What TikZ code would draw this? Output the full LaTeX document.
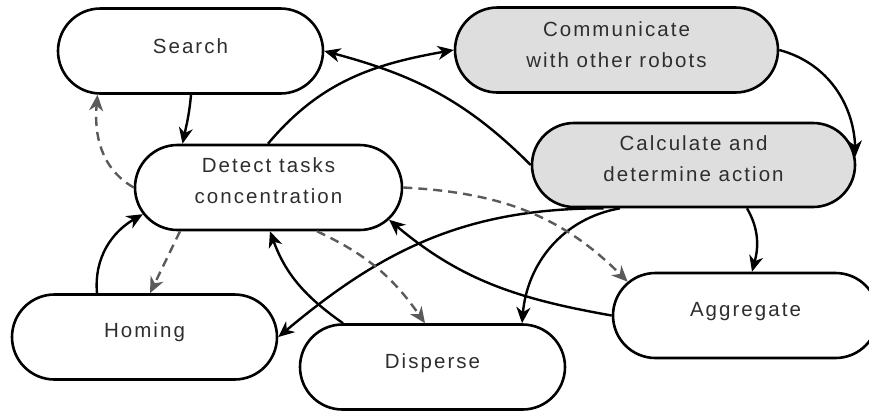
\documentclass[tikz,border=0pt]{standalone}
\usepackage{fontspec}
\setmainfont{Liberation Sans}[LetterSpace=10]
\usetikzlibrary{shapes.misc,arrows.meta}
\definecolor{boxgray}{HTML}{DEDEDE}
\definecolor{txtgray}{HTML}{2E2E2E}
\definecolor{dashgray}{HTML}{5A5A5A}
\begin{document}
\begin{tikzpicture}[x=1pt,y=1pt,
  state/.style={rounded rectangle, draw=black, line width=2.6pt, minimum height=85pt, inner sep=0pt},
  txt/.style={text=txtgray, font=\fontsize{20.5}{31}\selectfont, align=center, inner sep=0pt},
  conn/.style={line width=2.4pt, draw=black, -{Stealth[length=16pt,width=14pt,inset=5pt]}},
  dconn/.style={conn, draw=dashgray, dash pattern=on 9pt off 6pt}]
\useasboundingbox (0,0) rectangle (869,-410);
% boxes
\node[state, minimum width=265pt] (search) at (190.5,-51) {};
\node[state, fill=boxgray, minimum width=323pt] (comm) at (616.5,-50) {};
\node[state, fill=boxgray, minimum width=323pt, minimum height=84pt] (calc) at (693.5,-165) {};
\node[state, minimum width=267pt] (detect) at (268.5,-187.5) {};
\node[state, minimum width=265pt] (homing) at (144.5,-337) {};
\node[state, minimum width=265pt] (disperse) at (432.5,-367) {};
\node[state, minimum width=265pt] (aggr) at (745.5,-315.5) {};
% texts
\node[txt, anchor=base] (search-t) at (190.5,-53) {Search};
\node[txt] (comm-t) at (616.5,-44.4) {Communicate\\with other robots};
\node[txt] (calc-t) at (693.5,-159) {Calculate and\\determine action};
\node[txt] (detect-t) at (268.5,-181) {Detect tasks\\concentration};
\node[txt, anchor=base] (homing-t) at (144.5,-337) {Homing};
\node[txt, anchor=base] (disperse-t) at (432.5,-368) {Disperse};
\node[txt, anchor=base] (aggr-t) at (745.5,-316) {Aggregate};
% connectors
\draw[conn] ([xshift=0.5pt]search.south) to[out=-95,in=78] ([xshift=-86pt]detect.north);
\draw[dconn] (detect.west) to[out=150,in=-95] ([xshift=-93pt]search.south);
\draw[conn] ([xshift=-0.5pt]detect.north) to[out=50,in=190] (comm.west);
\draw[conn] (calc.west) to[out=135,in=-15] (search.east);
\draw[conn] (comm.east) to[out=-15,in=92] (calc.3);
\draw[conn] ([xshift=-90pt]calc.south) to[out=180,in=40] (homing.east);
\draw[conn] ([xshift=-73.5pt]calc.south) to[out=190,in=85] ([xshift=89.5pt]disperse.north);
\draw[conn] ([xshift=53.5pt]calc.south) to[out=-60,in=75] ([xshift=6.5pt]aggr.north);
\draw[conn] (aggr.west) to[out=170,in=-40] (detect.-15);
\draw[conn] ([xshift=-89.5pt]disperse.north) to[out=145,in=-70] ([xshift=1.5pt]detect.south);
\draw[conn] ([xshift=-47.5pt]homing.north) to[out=95,in=210] (detect.192);
\draw[dconn] ([xshift=-88.5pt]detect.south) -- ([xshift=5.5pt]homing.north);
\draw[dconn] ([xshift=48.5pt]detect.south) to[out=-25,in=125] ([xshift=-7.5pt]disperse.north);
\draw[dconn] (detect.east) to[out=-3,in=135] (aggr.164);
\end{tikzpicture}
\end{document}
